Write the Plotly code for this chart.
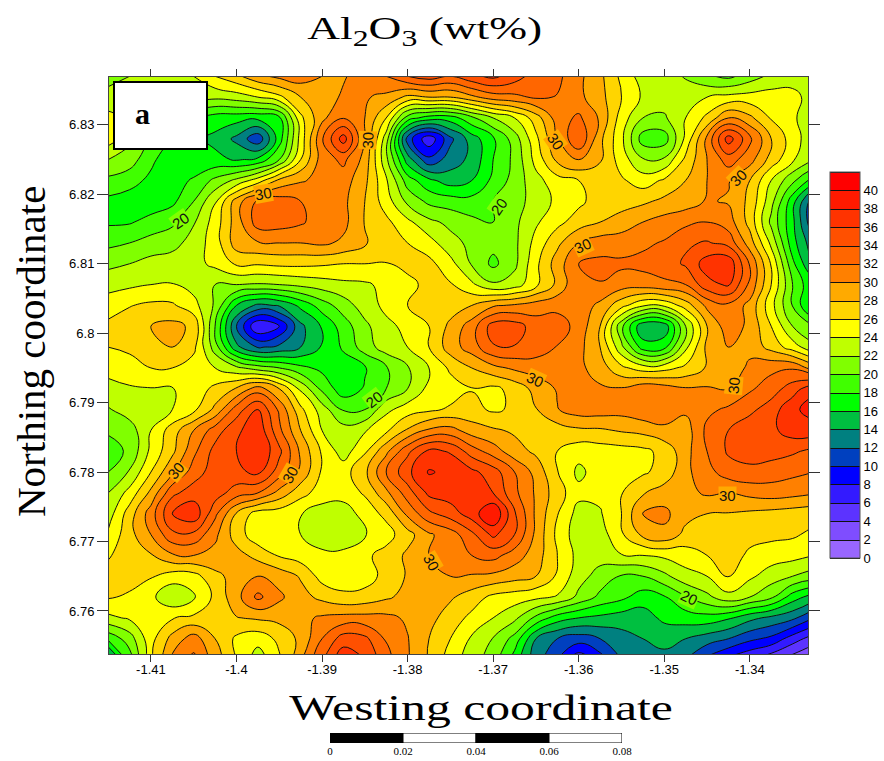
import plotly.graph_objects as go

westing = [-1.415,-1.4125,-1.41,-1.4075,-1.405,-1.4025,-1.4,-1.3975,-1.395,-1.3925,-1.39,-1.3875,-1.385,-1.3825,-1.38,-1.3775,-1.375,-1.3725,-1.37,-1.3675,-1.365,-1.3625,-1.36,-1.3575,-1.355,-1.3525,-1.35,-1.3475,-1.345,-1.3425,-1.34,-1.3375,-1.335,-1.3325]
northing = [6.837,6.834,6.831,6.828,6.825,6.822,6.819,6.816,6.813,6.81,6.807,6.804,6.801,6.798,6.795,6.792,6.789,6.786,6.783,6.78,6.777,6.774,6.771,6.768,6.765,6.762,6.759,6.756,6.753]

r00 = [21,22,23,23,24,26,27.5,29.5,30.5,31,30,29.8,31,32,34,35,34,35.5,36.5,35,33,32.5,30.5,28.5,25.5,23,23,21.8,20.3,19.5,21,22.5,23,23]
r01 = [23,23,23,23,23,22.5,23,24,25.5,28,29,30.3,30.2,29.5,27.5,28,28,29.5,31,31.5,32.3,31.9,30.5,28.7,26,23.7,23,23.2,24,24.6,24.8,24.9,24.7,23]
r02 = [24.5,23.5,22,20.5,18.5,17,16.8,16.5,17.5,25.5,29.5,31.9,30,26,19,17,17,19.5,22,24,27,31,32.4,29.7,25,22,21.7,24,26.5,30,28.5,25.8,24.5,22]
r03 = [25,22.5,20,18,16.5,15.5,13.5,10.5,17,24.8,31.8,37,30,23,11,6.5,11.5,15,17.7,21,25.5,29.9,34,28.5,24.5,19,19,24.5,30.5,37,32.5,28,25,22.5]
r04 = [22,21,18.5,16.5,16.3,16.5,15.8,16.5,20,26,31,32.5,29.3,22.5,15,10.5,13,14.5,18,20.5,24.7,28.5,30,28.3,25,22.2,22.3,26.5,30,33,30.8,27.2,24.3,22]
r05 = [19.5,18.8,17.5,17,18.3,20.5,22.5,25,28.5,29.8,30.5,31,28.5,24.3,19,16.5,15,16,18.5,20.8,23.3,25.2,26,26.5,26.3,25,26.3,28,30,30.2,28,24,20.5,17]
r06 = [17.5,17,16.8,17.5,20,23.8,29,32.5,33,32,31,30.5,28,25,21.5,19.5,19,18.7,20,21,23,24.4,25.5,27,27,27.6,28.5,29,30.2,29.8,27.5,22.7,16.8,10.5]
r07 = [17.7,17.8,18.7,19.6,21.8,24.9,29,33,33,32.3,31,30.6,27.9,26.5,24.5,22.5,21.5,20.5,20,21.5,23.7,25.4,27,28,29,30,30.8,31.5,32,31,27.3,21.5,16.5,10]
r08 = [19.5,20,20.8,21.3,22.8,25,29,29.8,30,30,30.4,29.6,28.2,27.2,26,24.8,22.7,21.5,20.6,21.5,24.7,27.5,30,31,31,31.6,32.2,33.7,34.2,33.3,29,23.5,16.8,12.5]
r09 = [21.5,22,22.7,23,23.3,24.5,26.3,26.2,26.5,26.5,26.3,26,26,25.9,26.5,26.6,24.7,21.8,19.5,21.5,25.5,29,32,32.5,32.4,32.6,33,34.3,37,37.5,31.8,25.8,18.5,13.5]
r10 = [23.3,23.6,24,24.1,23.2,22,22,21.8,22,22.5,23,23.5,23.7,24.5,25.5,26.5,26.2,24.4,22.3,23,25.5,28.5,31.9,31.9,31,31,31.6,32,35.3,36.3,31.5,26,20,16]
r11 = [25,25.9,26.4,26.3,24.7,21.7,16,13.5,14.2,16.5,19,21,23,24.5,26,27.2,27,28,29.7,30.3,31,31.4,31.2,29.5,26.7,24.3,24.4,26.9,30.5,31.5,29.4,24.7,19.9,15]
r12 = [26.5,27,28,28.6,27.6,20,12,6,8,13.5,16.2,19,21.5,23.5,24.5,26,28.5,31,35,35,33,33,31.3,28,20.5,14.3,14.6,22,28,31.2,29.5,26,22,20]
r13 = [26,26.5,27.5,28,26.5,21,14.5,11.8,12.5,14,16.2,18.3,21,23,24,26,29,31,33.8,33.9,33,31.9,30.7,28,22.5,17,17.3,23.5,28.5,30,29.3,27.3,25,22.5]
r14 = [24.7,25,26,26,25,24,22.5,21,20,18.5,17.5,17,17.8,19.8,21.8,24,26.4,28,29.4,30.4,31,30.9,30.5,29,26.5,25,25.3,26.5,28.2,28.5,30.5,31.5,31.8,29]
r15 = [23.3,23.8,23.9,23.9,24.8,26.5,28.2,31,28,23.6,19.5,16.8,18.2,20,22,24.6,25,25.9,25.5,26.7,28.7,30.2,30.7,30.3,30.2,31.5,31,30.2,30.2,30,31.7,33,35,37.5]
r16 = [21.8,23,23.3,24,25.5,28.5,33,36,31.6,26.5,23,19.8,20,23.5,25,25.6,26.3,26.6,25.7,26.3,27.9,29.9,31,31,30.8,31.5,31.3,30.4,31.5,32.4,33.5,35,37.5,39]
r17 = [20.3,21,24,27,30,33,35.5,37.5,32.5,28,24,22.9,23.8,25.6,28.3,30.4,30.8,29,28.3,27.7,27,27,27.6,27.7,28.2,28.6,29.5,29,32.5,34,35.3,35.5,37,37]
r18 = [19,20.4,24.5,27.5,31.5,34.7,36,38,34.5,29.6,25.7,23,25.7,29.5,33.5,36.5,35.8,33,31,28.8,27.6,26,24.8,25,25.2,25.5,26.6,29.3,32,34.3,34.8,34.8,34.3,33.5]
r19 = [20,22.2,26,29.7,33,35,35.5,36.5,33,29.5,25.7,25.2,27.5,32,35.5,38.2,37.5,36.5,35,32,29.3,26.1,23.5,25,25.5,25.7,26.7,29.5,31.3,33,33.5,33,32.5,32]
r20 = [22,24.7,28.5,33.5,35,35,33,32,29.3,26.7,25.1,25.1,26.2,29.5,33,36.5,37,36.5,36,32.5,29.7,26.9,24.6,24.5,25.9,27.8,29,29.4,30.3,30,30.6,31,30.7,30.2]
r21 = [23,27,31,36,37.5,32.5,27.8,25,24.9,24.1,23,22.6,25,26.5,30.5,33.5,35,37,40,34.3,29.6,26.1,23.2,23.8,26,30.2,30.5,28.7,28,27.9,27.6,27.3,27,26.7]
r22 = [24.3,27.3,30,33.5,33.5,30.5,27,24.7,24.6,24,22.3,22,23.9,25.2,27.2,29.7,31,33.5,36.5,34,29.5,25.5,22.8,23,25.7,28.5,29.5,27.4,27,26.5,26.7,26.5,26.3,25.5]
r23 = [25.8,27,27.8,29.7,30,29.3,28.8,27.3,25.8,25,24.7,24.8,25.6,26.7,28.4,30,31.5,32,32.7,31,29,26,23.3,22.8,23.9,24,24.4,25,26,27,25.6,25,24.7,24]
r24 = [26.7,26.8,26.2,25,25.2,27.5,28.7,30,29.2,27.8,25.2,24.8,25,26.7,28.2,29.8,30,29.8,29.5,28.8,28,25.7,22.8,21.2,19.8,20,21.5,23.3,24,26.3,24.4,23,22,21]
r25 = [26.2,25.7,24.5,22.3,23.7,26.5,29.3,32.5,30.4,28.7,27.5,26.5,26.8,27.7,28.6,29.4,28.3,27,25.5,25,24.5,23.8,21.5,19.5,18.5,17,17.8,19.8,21.5,23.3,22,20.4,17,15]
r26 = [23.5,24.3,25,25.9,26.4,26.8,27.9,28.3,28.6,29.5,30.3,30.7,30.7,30.5,29.7,28.7,27,25.5,24,22.5,19.5,17,16,15.5,15,15,16.5,17,17.2,16.3,14.6,13.5,12.5,10]
r27 = [18.5,21,25.3,28.7,31,28,25.6,24.8,26.5,28.5,32,35,34.5,31.8,30.1,28,26,23.7,21.9,19.3,14,12,11,12,13.2,14,14.5,14,13,12,10.5,9.5,7,5]
r28 = [12,19,25.5,30.5,32.5,29,26,22.8,25.7,29.7,33.7,37.5,36,32.7,30.2,27.8,25,23,21,17,13,10,6.5,9,12,14,13.5,12,9.5,7.5,6,4.5,3,1.5]
al2o3 = [r00,r01,r02,r03,r04,r05,r06,r07,r08,r09,r10,r11,r12,r13,r14,r15,r16,r17,r18,r19,r20,r21,r22,r23,r24,r25,r26,r27,r28]

band_colors = ["#9966ff","#7f4dff","#5c33ff","#331aff","#0000ff","#0040bf","#008080","#00bf40","#00ff00","#40ff00","#80ff00","#bfff00","#ffff00","#ffd500","#ffaa00","#ff8000","#ff6600","#ff5000","#ff3300","#ff1a00","#ff0000"]
level_ticks = [0,2,4,6,8,10,12,14,16,18,20,22,24,26,28,30,32,34,36,38,40]
x_ticks = [-1.41,-1.40,-1.39,-1.38,-1.37,-1.36,-1.35,-1.34]
x_tick_text = ["-1.41","-1.4","-1.39","-1.38","-1.37","-1.36","-1.35","-1.34"]
y_ticks = [6.76,6.77,6.78,6.79,6.80,6.81,6.82,6.83]
y_tick_text = ["6.76","6.77","6.78","6.79","6.8","6.81","6.82","6.83"]
contour_labels = [("30",-1.3847,6.8278,-88,"#ffaa00"),("30",-1.3968,6.8201,-10,"#ffaa00"),("20",-1.4065,6.8163,-35,"#80ff00"),
    ("20",-1.3693,6.8182,-55,"#80ff00"),("30",-1.3627,6.8276,55,"#ffaa00"),("30",-1.3595,6.8127,-25,"#ffaa00"),
    ("30",-1.3413,6.8224,-45,"#ffaa00"),("30",-1.3419,6.7925,-85,"#ffaa00"),("30",-1.3651,6.7934,25,"#ffaa00"),
    ("30",-1.3426,6.7767,0,"#ffaa00"),("20",-1.3471,6.7620,25,"#80ff00"),("20",-1.3839,6.7904,-38,"#80ff00"),
    ("30",-1.3937,6.7796,-60,"#ffaa00"),("30",-1.4071,6.7803,-50,"#ffaa00"),("30",-1.3772,6.7670,60,"#ffaa00")]
scale_pos = [0.01,0.03,0.05,0.07]
scale_len = [0.02,0.02,0.02,0.02]
scale_fill = ["black","white","black","white"]
scale_ticks = [0,0.02,0.04,0.06,0.08]

W, H = 884, 761
n = len(band_colors)
colorscale = []
for i, c in enumerate(band_colors):
    colorscale += [[i/n, c], [(i+1)/n, c]]

fig = go.Figure()
fig.add_trace(go.Contour(
    x=westing, y=northing, z=al2o3, zmin=0, zmax=42, colorscale=colorscale,
    contours=dict(start=0, end=42, size=2, coloring="fill", showlines=True),
    line=dict(color="#111111", width=1, smoothing=1.3),
    colorbar=dict(x=830/W, xanchor="left", xpad=0, y=1-365/H, yanchor="middle", ypad=0,
                  lenmode="pixels", len=386, thicknessmode="pixels", thickness=30,
                  tickmode="array", tickvals=level_ticks, ticktext=[str(v) for v in level_ticks],
                  ticks="", tickfont=dict(family="Liberation Sans", size=13, color="black"),
                  outlinecolor="#555555", outlinewidth=1),
    hoverinfo="skip",
))
fig.add_trace(go.Bar(x=scale_pos, y=[1,1,1,1], width=scale_len, marker=dict(color=scale_fill, line=dict(color="black", width=1)),
                     xaxis="x2", yaxis="y2", showlegend=False, hoverinfo="skip"))

annotations = [dict(text=t, x=x, y=y, xref="x", yref="y", textangle=a, showarrow=False, bgcolor=bg, borderpad=0,
                    font=dict(family="Liberation Sans", size=15, color="#111111")) for t, x, y, a, bg in contour_labels]
annotations += [
    dict(text="<b>a</b>", x=142/W, y=1-113/H, xref="paper", yref="paper", showarrow=False,
         font=dict(family="Liberation Serif", size=30, color="black"), xanchor="center", yanchor="middle"),
    dict(text="Al<sub>2</sub>O<sub>3</sub> (wt%)", x=424/W, y=1-31/H, xref="paper", yref="paper", showarrow=False,
         font=dict(family="Liberation Serif", size=32, color="black"), xanchor="center", yanchor="middle"),
    dict(text="Westing coordinate", x=481/W, y=1-708/H, xref="paper", yref="paper", showarrow=False,
         font=dict(family="Liberation Serif", size=36, color="black"), xanchor="center", yanchor="middle"),
    dict(text="Northing coordinate", x=31/W, y=1-352/H, xref="paper", yref="paper", showarrow=False, textangle=-90,
         font=dict(family="Liberation Serif", size=41, color="black"), xanchor="center", yanchor="middle"),
]

fig.update_layout(
    width=W, height=H, margin=dict(l=0, r=0, t=0, b=0, autoexpand=False), paper_bgcolor="white", plot_bgcolor="white",
    showlegend=False, annotations=annotations,
    xaxis=dict(domain=[109/W, 808/W], range=[-1.4149,-1.3332], tickmode="array", tickvals=x_ticks, ticktext=x_tick_text,
               ticks="outside", ticklen=7, tickcolor="#333333", showline=True, linecolor="#444444", mirror="ticks",
               ticklabelstandoff=-4,
               showgrid=False, zeroline=False, tickfont=dict(family="Liberation Sans", size=13, color="black")),
    yaxis=dict(domain=[1-654/H, 1-77/H], range=[6.7538,6.8369], tickmode="array", tickvals=y_ticks, ticktext=y_tick_text,
               ticks="outside", ticklen=11, tickcolor="#333333", showline=True, linecolor="#444444", mirror="ticks",
               showgrid=False, zeroline=False, tickfont=dict(family="Liberation Sans", size=13, color="black")),
    xaxis2=dict(domain=[330/W, 622/W], range=[0,0.08], anchor="y2", tickmode="array", tickvals=scale_ticks,
                ticktext=["0","0.02","0.04","0.06","0.08"], ticks="", showgrid=False, zeroline=False, showline=False,
                ticklabelstandoff=0, tickfont=dict(family="Liberation Sans Narrow", size=11, color="black")),
    yaxis2=dict(domain=[1-743/H, 1-733/H], range=[0,1], anchor="x2", visible=False),
    shapes=[dict(type="rect", xref="paper", yref="paper", x0=114/W, x1=207/W, y0=1-149/H, y1=1-82/H,
                 fillcolor="white", line=dict(color="black", width=2), layer="above")],
)
stretch_js = """
document.body.style.margin='0';
document.querySelectorAll('text.annotation-text').forEach(function(t){
  var c0=t.textContent, s=0;
  if(c0.indexOf('Al')===0){s=1.42;}
  if(c0.indexOf('Westing')===0){s=1.38;}
  if(s){var b=t.getBBox();var c=b.x+b.width/2;
    t.setAttribute('transform','translate('+c+',0) scale('+s+',1) translate('+(-c)+',0)');}
});
"""
fig.write_html("out.html", post_script=stretch_js, config=dict(displayModeBar=False))
